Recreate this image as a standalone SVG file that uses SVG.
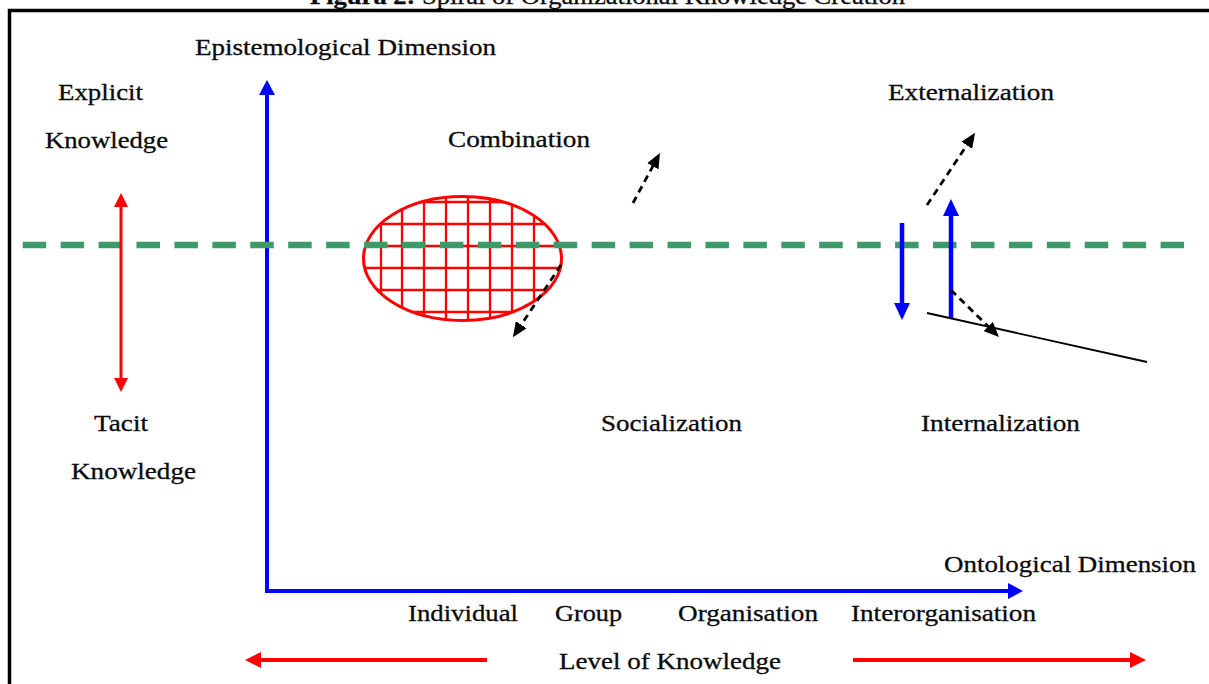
<svg xmlns="http://www.w3.org/2000/svg" width="1209" height="684" viewBox="0 0 1209 684">
<style>
.t{font-family:"Liberation Serif","Times New Roman",serif;font-size:24px;fill:#0a0a0a;stroke:#0a0a0a;stroke-width:0.3}
.blue{stroke:#0000ff;fill:none}
.red{stroke:#ff0000;fill:none}
.blk{stroke:#000;fill:none;stroke-width:2.8;stroke-dasharray:7 5}
.grid{stroke:#ff0000;stroke-width:2.3;fill:none}
</style>
<defs>
<marker id="ab" markerUnits="userSpaceOnUse" markerWidth="16" markerHeight="16" refX="4" refY="8" orient="auto-start-reverse"><path d="M0,0 L15,8 L0,16 z" fill="#0000ff"/></marker>
<marker id="ab2" markerUnits="userSpaceOnUse" markerWidth="17" markerHeight="16" refX="4" refY="8" orient="auto-start-reverse"><path d="M0,0 L17,8 L0,16 z" fill="#0000ff"/></marker>
<marker id="ar" markerUnits="userSpaceOnUse" markerWidth="16" markerHeight="16" refX="4" refY="8" orient="auto-start-reverse"><path d="M0,0 L16,8 L0,16 z" fill="#ff0000"/></marker>
<marker id="ar2" markerUnits="userSpaceOnUse" markerWidth="14" markerHeight="14" refX="4" refY="7" orient="auto-start-reverse"><path d="M0,0 L14,7 L0,14 z" fill="#ff0000"/></marker>
<marker id="ak" markerUnits="userSpaceOnUse" markerWidth="15" markerHeight="13" refX="4" refY="6.5" orient="auto"><path d="M0,0 L15,6.5 L0,13 z" fill="#000"/></marker>
<clipPath id="ec"><ellipse cx="462.5" cy="258.5" rx="99" ry="62"/></clipPath>
</defs>
<rect width="1209" height="684" fill="#fff"/>
<text class="t" x="310" y="4" font-size="22" textLength="595" lengthAdjust="spacingAndGlyphs"><tspan font-weight="bold">Figura 2:</tspan> Spiral of Organizational Knowledge Creation</text>
<path d="M9.5,684 V10.5 H1209" stroke="#000" stroke-width="3.5" fill="none"/>

<g id="ellipse">
<g clip-path="url(#ec)" class="grid">
<path d="M381,190 V330 M402,190 V330 M424,190 V330 M446,190 V330 M468,190 V330 M490,190 V330 M512,190 V330 M534,190 V330"/>
<path d="M360,202 H570 M360,224 H570 M360,246 H570 M360,268 H570 M360,290 H570 M360,312 H570"/>
</g>
<ellipse cx="462.5" cy="258.5" rx="99" ry="62" fill="none" stroke="#ff0000" stroke-width="3"/>
</g>

<g id="connectors">
<polyline class="blue" stroke-width="4" stroke-linejoin="miter" points="267,91 267,591 1012,591" marker-start="url(#ab)" marker-end="url(#ab)"/>
<line x1="22.7" y1="245" x2="1185" y2="245" stroke="#3c9b69" stroke-width="6.5" stroke-dasharray="23.5 14.43"/>
<line class="red" stroke-width="3" x1="121" y1="203" x2="121" y2="382" marker-start="url(#ar2)" marker-end="url(#ar2)"/>
<line class="red" stroke-width="4" x1="487" y1="660" x2="257" y2="660" marker-end="url(#ar)"/>
<line class="red" stroke-width="4" x1="853" y1="660" x2="1134" y2="660" marker-end="url(#ar)"/>
<line class="blue" stroke-width="4.5" x1="902" y1="223" x2="902" y2="307" marker-end="url(#ab2)"/>
<line class="blue" stroke-width="4.5" x1="951" y1="319" x2="951" y2="212" marker-end="url(#ab2)"/>
<line x1="927" y1="313" x2="1147" y2="362" stroke="#000" stroke-width="1.8"/>
<line class="blk" x1="633" y1="203" x2="654.7" y2="162.7" marker-end="url(#ak)"/>
<line class="blk" x1="561" y1="265" x2="519" y2="328" marker-end="url(#ak)"/>
<line class="blk" x1="927" y1="205" x2="969" y2="142" marker-end="url(#ak)"/>
<line class="blk" x1="951" y1="290" x2="991.1" y2="329.3" marker-end="url(#ak)"/>
</g>

<g id="labels">
<g id="epistemological"><text class="t" x="195" y="55" textLength="301" lengthAdjust="spacingAndGlyphs">Epistemological Dimension</text></g>
<g id="explicit"><text class="t" x="58" y="100" textLength="85" lengthAdjust="spacingAndGlyphs">Explicit</text><text class="t" x="45" y="148" textLength="123" lengthAdjust="spacingAndGlyphs">Knowledge</text></g>
<g id="combination"><text class="t" x="448" y="147" textLength="142" lengthAdjust="spacingAndGlyphs">Combination</text></g>
<g id="externalization"><text class="t" x="888" y="100" textLength="166" lengthAdjust="spacingAndGlyphs">Externalization</text></g>
<g id="tacit"><text class="t" x="94" y="431" textLength="54" lengthAdjust="spacingAndGlyphs">Tacit</text><text class="t" x="71" y="479" textLength="125" lengthAdjust="spacingAndGlyphs">Knowledge</text></g>
<g id="socialization"><text class="t" x="601" y="431" textLength="141" lengthAdjust="spacingAndGlyphs">Socialization</text></g>
<g id="internalization"><text class="t" x="921" y="431" textLength="159" lengthAdjust="spacingAndGlyphs">Internalization</text></g>
<g id="ontological"><text class="t" x="944" y="572" textLength="252" lengthAdjust="spacingAndGlyphs">Ontological Dimension</text></g>
<g id="individual"><text class="t" x="408" y="621" textLength="110" lengthAdjust="spacingAndGlyphs">Individual</text></g>
<g id="group"><text class="t" x="555" y="621" textLength="67" lengthAdjust="spacingAndGlyphs">Group</text></g>
<g id="organisation"><text class="t" x="678" y="621" textLength="140" lengthAdjust="spacingAndGlyphs">Organisation</text></g>
<g id="interorganisation"><text class="t" x="851" y="621" textLength="185" lengthAdjust="spacingAndGlyphs">Interorganisation</text></g>
<g id="level"><text class="t" x="559" y="669" textLength="222" lengthAdjust="spacingAndGlyphs">Level of Knowledge</text></g>
</g>
</svg>
